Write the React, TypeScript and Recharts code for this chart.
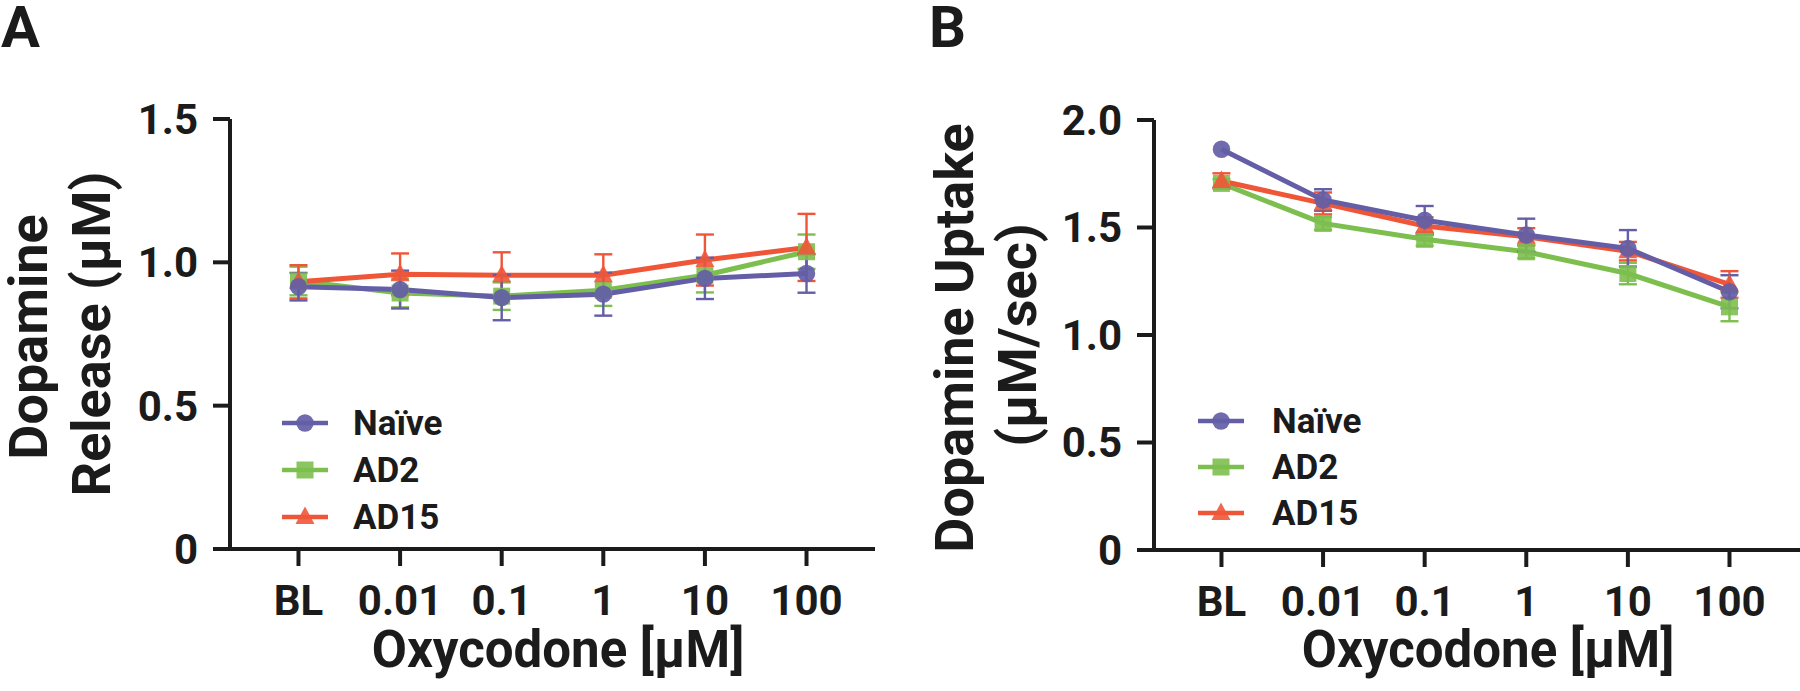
import { LineChart, Line, XAxis, YAxis, ErrorBar } from "recharts";

// x categories (oxycodone concentration)
const doses = ["BL", "0.01", "0.1", "1", "10", "100"];

// Panel A: dopamine release (µM)
const releaseNaive = [0.915, 0.905, 0.877, 0.889, 0.944, 0.961];
const releaseNaiveErr = [0.048, 0.066, 0.079, 0.075, 0.072, 0.067];
const releaseAD2 = [0.935, 0.893, 0.882, 0.903, 0.955, 1.037];
const releaseAD2Err = [0.05, 0.05, 0.048, 0.055, 0.06, 0.06];
const releaseAD15 = [0.932, 0.958, 0.955, 0.955, 1.008, 1.052];
const releaseAD15Err = [0.058, 0.073, 0.08, 0.073, 0.089, 0.117];

// Panel B: dopamine uptake (µM/sec)
const uptakeNaive = [1.864, 1.628, 1.534, 1.465, 1.403, 1.201];
const uptakeNaiveErr = [0, 0.05, 0.066, 0.076, 0.085, 0.077];
const uptakeAD2 = [1.705, 1.519, 1.445, 1.387, 1.286, 1.131];
const uptakeAD2Err = [0.02, 0.03, 0.03, 0.03, 0.05, 0.067];
const uptakeAD15 = [1.716, 1.612, 1.507, 1.457, 1.39, 1.235];
const uptakeAD15Err = [0.036, 0.051, 0.04, 0.04, 0.043, 0.062];

const releaseTicks = [0, 0.5, 1, 1.5];
const uptakeTicks = [0, 0.5, 1, 1.5, 2];

// draw order: green, red, purple on top
const series = [
	{ key: "ad2", name: "AD2", color: "#7dbf4f", shape: "square" },
	{ key: "ad15", name: "AD15", color: "#ef5638", shape: "triangle" },
	{ key: "naive", name: "Naïve", color: "#635ea6", shape: "circle" },
];
const legendOrder = ["naive", "ad2", "ad15"];

const FONT = "Roboto, 'Liberation Sans', sans-serif";
const INK = "#1b1b1b";

function buildRows(naive: number[], naiveErr: number[], ad2: number[], ad2Err: number[], ad15: number[], ad15Err: number[]) {
	return doses.map((d, i) => ({
		x: i,
		dose: d,
		naive: naive[i],
		naiveErr: naiveErr[i],
		ad2: ad2[i],
		ad2Err: ad2Err[i],
		ad15: ad15[i],
		ad15Err: ad15Err[i],
	}));
}

const releaseData = buildRows(releaseNaive, releaseNaiveErr, releaseAD2, releaseAD2Err, releaseAD15, releaseAD15Err);
const uptakeData = buildRows(uptakeNaive, uptakeNaiveErr, uptakeAD2, uptakeAD2Err, uptakeAD15, uptakeAD15Err);

function Marker({ shape, cx, cy, color }: { shape: string; cx: number; cy: number; color: string }) {
	if (cx == null || cy == null) return null;
	if (shape === "square") {
		return <rect x={cx - 8.5} y={cy - 8.5} width={17} height={17} fill={color} fillOpacity={0.9} />;
	}
	if (shape === "triangle") {
		return <polygon points={`${cx},${cy - 10.5} ${cx + 9.5},${cy + 7} ${cx - 9.5},${cy + 7}`} fill={color} fillOpacity={0.9} />;
	}
	return <circle cx={cx} cy={cy} r={8.7} fill={color} fillOpacity={0.92} />;
}

const tickStyle = { fill: INK, fontSize: 42, fontWeight: 700, fontFamily: FONT };

function Panel({
	data,
	yMax,
	yTicks,
	xDomain,
	margin,
}: {
	data: any[];
	yMax: number;
	yTicks: number[];
	xDomain: [number, number];
	margin: { top: number; right: number; bottom: number; left: number };
}) {
	return (
		<LineChart width={900} height={691} data={data} margin={margin}>
			<XAxis
				type="number"
				dataKey="x"
				domain={xDomain}
				ticks={[0, 1, 2, 3, 4, 5]}
				allowDataOverflow
				tickFormatter={(v: number) => doses[v]}
				height={80}
				tickSize={17}
				tickMargin={19}
				axisLine={{ stroke: INK, strokeWidth: 4 }}
				tickLine={{ stroke: INK, strokeWidth: 4 }}
				tick={tickStyle}
				interval={0}
			/>
			<YAxis
				type="number"
				domain={[0, yMax]}
				ticks={yTicks}
				allowDataOverflow
				tickFormatter={(v: number) => (v === 0 ? "0" : v.toFixed(1))}
				width={80}
				tickSize={17}
				tickMargin={15}
				axisLine={{ stroke: INK, strokeWidth: 4 }}
				tickLine={{ stroke: INK, strokeWidth: 4 }}
				tick={tickStyle}
				interval={0}
			/>
			{series.map((s) => (
				<Line
					key={s.key}
					type="linear"
					dataKey={s.key}
					stroke={s.color}
					strokeWidth={5}
					isAnimationActive={false}
					activeDot={false}
					dot={(p: any) => <Marker key={`${s.key}-${p.index}`} shape={s.shape} cx={p.cx} cy={p.cy} color={s.color} />}
				>
					<ErrorBar dataKey={`${s.key}Err`} direction="y" width={9} stroke={s.color} strokeWidth={2.4} />
				</Line>
			))}
		</LineChart>
	);
}

function LegendBlock({ x0, x1, textX, rows }: { x0: number; x1: number; textX: number; rows: number[] }) {
	const cx = (x0 + x1) / 2;
	return (
		<g>
			{legendOrder.map((k, i) => {
				const s = series.find((q) => q.key === k)!;
				const y = rows[i];
				return (
					<g key={k}>
						<line x1={x0} x2={x1} y1={y} y2={y} stroke={s.color} strokeWidth={4.5} />
						<Marker shape={s.shape} cx={cx} cy={y} color={s.color} />
						<text x={textX} y={y + 12} fontSize={35} fontWeight={700} fontFamily={FONT} fill={INK}>
							{s.name}
						</text>
					</g>
				);
			})}
		</g>
	);
}

export default function App() {
	const titleProps = { fontSize: 54, fontWeight: 700, fontFamily: FONT, fill: INK, textAnchor: "middle" as const };
	return (
		<div style={{ position: "absolute", left: 0, top: 0, width: 1800, height: 691, background: "#fff", overflow: "hidden" }}>
			<div style={{ position: "absolute", left: 0, top: 0 }}>
				<Panel data={releaseData} yMax={1.5} yTicks={releaseTicks} xDomain={[-0.674, 5.674]} margin={{ top: 119, right: 25, bottom: 62, left: 150 }} />
			</div>
			<div style={{ position: "absolute", left: 900, top: 0 }}>
				<Panel data={uptakeData} yMax={2} yTicks={uptakeTicks} xDomain={[-0.664, 5.694]} margin={{ top: 120, right: 0, bottom: 61, left: 174 }} />
			</div>
			<svg width={1800} height={691} style={{ position: "absolute", left: 0, top: 0, pointerEvents: "none" }}>
				<text x={1} y={47} fontSize={58} fontWeight={700} fontFamily={FONT} fill={INK}>A</text>
				<text x={929} y={47} fontSize={58} fontWeight={700} fontFamily={FONT} fill={INK}>B</text>

				<text transform="translate(47,337) rotate(-90)" {...titleProps}>Dopamine</text>
				<text transform="translate(110,334) rotate(-90)" {...titleProps}>Release (µM)</text>
				<text transform="translate(973,338) rotate(-90)" {...titleProps}>Dopamine Uptake</text>
				<text transform="translate(1036,335) rotate(-90)" {...titleProps}>(µM/sec)</text>

				<text x={558} y={667} {...titleProps} fontSize={51}>Oxycodone [µM]</text>
				<text x={1488} y={667} {...titleProps} fontSize={51}>Oxycodone [µM]</text>

				<LegendBlock x0={282} x1={328} textX={353} rows={[423, 470, 517]} />
				<LegendBlock x0={1198} x1={1244} textX={1272} rows={[421, 467, 513]} />
			</svg>
		</div>
	);
}
